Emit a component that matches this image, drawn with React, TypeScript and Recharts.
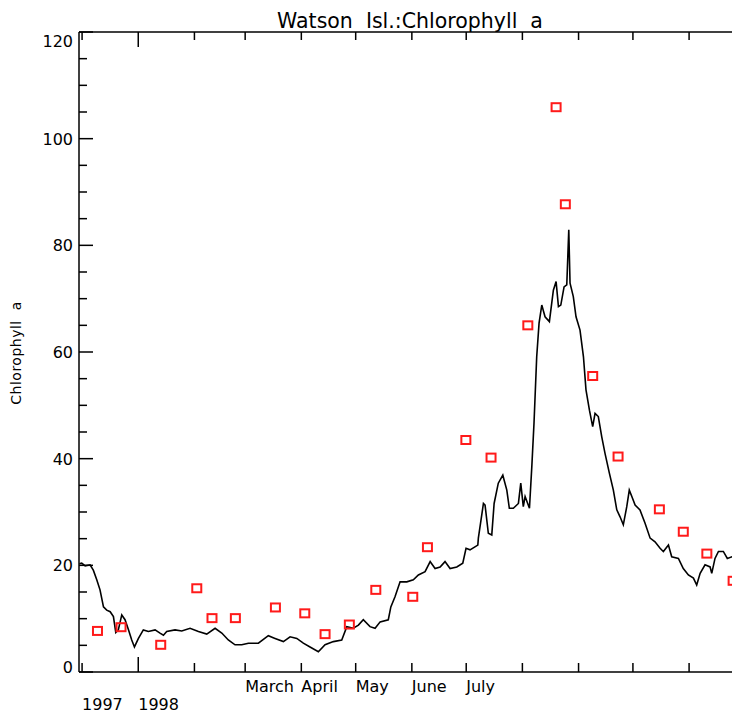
import React from "react";
import { ComposedChart, Line, Scatter, XAxis, YAxis } from "recharts";

// days counted from 1 Dec 1997
const sensorDays = [
  -1.5, -0.2, 1.7, 4.4, 6.2, 8.1, 9.9, 11.8, 13.6, 15.5, 17.3, 18.6, 20.0, 21.9, 23.7, 25.6, 27.4, 28.9,
  31.1, 33.8, 36.6, 40.3, 43.0, 44.9, 46.7, 51.3, 55.0, 59.6, 64.2, 68.8, 73.4, 77.1, 80.7, 84.4, 88.1,
  91.8, 97.3, 102.8, 106.5, 111.1, 114.8, 118.5, 122.1, 125.8, 130.4, 134.1, 138.7, 143.3, 146.1, 149.7,
  152.5, 155.2, 158.9, 161.7, 164.5, 169.0, 170.4, 172.7, 175.5, 179.2, 182.8, 185.6, 189.3, 192.1, 194.8,
  197.6, 200.3, 203.1, 206.8, 210.1, 211.9, 214.1, 218.4, 218.7, 221.5, 222.4, 224.2, 226.1, 227.4, 229.7,
  232.2, 234.4, 235.8, 238.0, 240.8, 242.1, 243.5, 244.5, 246.9, 248.2, 249.4, 250.9, 252.2, 253.7, 255.5,
  257.9, 260.1, 261.6, 262.9, 264.2, 266.0, 267.5, 268.6, 269.3, 271.1, 272.6, 274.8, 276.7, 278.1, 280.0,
  281.8, 283.1, 284.9, 286.8, 288.6, 291.0, 293.2, 295.1, 296.9, 298.7, 300.6, 302.0, 303.4, 305.2, 307.9,
  310.7, 313.5, 316.2, 319.0, 320.8, 323.6, 325.4, 329.1, 331.8, 334.6, 337.4, 339.2, 341.1, 343.8, 346.6,
  347.5, 349.3, 351.2, 353.9, 356.1, 358.6, 362.0, 364.0,
];
const sensorChl = [
  20.3, 20.4, 19.9, 20.1, 19.1, 17.3, 15.4, 12.2, 11.6, 11.3, 10.4, 7.4, 7.9, 10.7, 9.8, 7.9, 6.0, 4.7,
  6.3, 7.9, 7.6, 7.9, 7.3, 6.9, 7.6, 7.9, 7.7, 8.2, 7.6, 7.1, 8.2, 7.3, 6.0, 5.1, 5.1,
  5.4, 5.4, 6.8, 6.3, 5.7, 6.6, 6.3, 5.4, 4.7, 3.8, 5.1, 5.7, 6.0, 8.5, 8.2,
  8.8, 9.8, 8.5, 8.2, 9.4, 9.8, 12.2, 14.1, 16.9, 16.9, 17.3, 18.2, 18.8, 20.7, 19.4,
  19.7, 20.7, 19.4, 19.7, 20.4, 23.2, 22.9, 23.8, 25.1, 31.6, 31.3, 26.0, 25.7, 31.6, 35.4,
  36.9, 34.1, 30.7, 30.7, 31.6, 35.4, 31.0, 32.9, 30.7, 38.5, 46.6, 59.1, 65.4, 68.8, 66.6,
  65.7, 71.6, 73.2, 68.5, 68.8, 72.2, 72.6, 82.9, 72.9, 70.4, 66.6, 64.1, 59.1, 52.9, 49.1,
  46.0, 48.5, 47.9, 44.1, 41.0, 37.3, 34.1, 30.4, 29.1, 27.6, 31.0, 34.1, 32.9, 31.3, 30.4,
  27.9, 25.1, 24.4, 23.2, 22.6, 23.8, 21.6, 21.3, 19.4, 18.2, 17.6, 16.3, 18.5, 20.1, 19.7,
  18.5, 21.3, 22.6, 22.6, 21.3, 21.6, 21.0, 21.2,
];

const sampleDays = [
  8.5, 21.5, 43.4, 63.3, 71.7, 84.6, 106.7, 122.9, 134.1, 147.5, 162.1, 182.5, 190.6, 211.8, 225.7, 246.0,
  261.6, 266.7, 281.8, 295.8, 318.6, 331.8, 344.8, 359.3,
];
const sampleChl = [
  7.7, 8.4, 5.1, 15.7, 10.1, 10.1, 12.1, 11.0, 7.1, 8.9, 15.4, 14.1, 23.4, 43.5, 40.2, 65.0,
  105.9, 87.7, 55.5, 40.4, 30.5, 26.3, 22.2, 17.1,
];

const monthTicks = [0, 31, 62, 90, 121, 151, 182, 212, 243, 274, 304, 335];
const monthLabels = ["", "", "", "March", "April", "May", "June", "July", "", "", "", ""];
const yearLabels = ["1997", "1998", "", "", "", "", "", "", "", "", "", ""];

const yTicks = [0, 5, 10, 15, 20, 25, 30, 35, 40, 45, 50, 55, 60, 65, 70, 75, 80, 85, 90, 95, 100, 105, 110, 115, 120];
const yLabels = ["0", "20", "40", "60", "80", "100", "120"];

const sensorData = sensorDays.map((day, i) => ({ day, chl: sensorChl[i] }));
const sampleData = sampleDays.map((day, i) => ({ day, chl: sampleChl[i] }));

const FONT = "'DejaVu Sans', sans-serif";

const BottomTick = (props: any) => {
  const { x, y, payload } = props;
  const i = monthTicks.indexOf(payload.value);
  const len = payload.value === 31 ? 15 : 9;
  return (
    <g>
      <line x1={x} x2={x} y1={y} y2={y - len} stroke="#000" strokeWidth={1.5} />
      {monthLabels[i] && (
        <text x={x} y={y + 20} fontFamily={FONT} fontSize={16} fill="#000">
          {monthLabels[i]}
        </text>
      )}
      {yearLabels[i] && (
        <text x={x} y={y + 38} fontFamily={FONT} fontSize={16} fill="#000">
          {yearLabels[i]}
        </text>
      )}
    </g>
  );
};

const TopTick = (props: any) => {
  const { x, y, payload } = props;
  const len = payload.value === 31 ? 15 : 8;
  return <line x1={x} x2={x} y1={y} y2={y + len} stroke="#000" strokeWidth={1.5} />;
};

const LeftTick = (props: any) => {
  const { x, y, payload } = props;
  const v = payload.value;
  const major = v % 20 === 0;
  const dy = v === 120 ? 15 : v === 0 ? 1 : 6;
  return (
    <g>
      <line x1={x} x2={x + (major ? 14 : 8)} y1={y} y2={y} stroke="#000" strokeWidth={1.5} />
      {major && (
        <text x={x - 6} y={y + dy} textAnchor="end" fontFamily={FONT} fontSize={16} fill="#000">
          {yLabels[v / 20]}
        </text>
      )}
    </g>
  );
};

const RightTick = (props: any) => {
  const { x, y, payload } = props;
  const major = payload.value % 20 === 0;
  return <line x1={x} x2={x - (major ? 14 : 8)} y1={y} y2={y} stroke="#000" strokeWidth={1.5} />;
};

const SquareMark = (props: any) => {
  const { cx, cy } = props;
  return <rect x={cx - 4.5} y={cy - 4} width={9} height={8} fill="none" stroke="#ff1a1a" strokeWidth={2} />;
};

export default function App() {
  return (
    <div
      style={{
        position: "absolute",
        left: 0,
        top: 0,
        width: 732,
        height: 715,
        overflow: "hidden",
        background: "#fff",
      }}
    >
      <ComposedChart width={760} height={715} margin={{ top: 30, right: 8, bottom: 0, left: 0 }}>
        <XAxis
          dataKey="day"
          type="number"
          domain={[-1.7, 364.2]}
          allowDataOverflow
          ticks={monthTicks}
          interval={0}
          height={43}
          tickSize={0}
          tickMargin={0}
          tick={<BottomTick />}
          axisLine={{ stroke: "#000", strokeWidth: 1.5 }}
        />
        <XAxis
          xAxisId="top"
          orientation="top"
          dataKey="day"
          type="number"
          domain={[-1.7, 364.2]}
          allowDataOverflow
          ticks={monthTicks}
          interval={0}
          height={2}
          tickSize={0}
          tickMargin={0}
          tick={<TopTick />}
          axisLine={{ stroke: "#000", strokeWidth: 1.5 }}
        />
        <YAxis
          type="number"
          domain={[0, 120]}
          ticks={yTicks}
          interval={0}
          width={79}
          tickSize={0}
          tickMargin={0}
          tick={<LeftTick />}
          axisLine={{ stroke: "#000", strokeWidth: 1.5 }}
        />
        <YAxis
          yAxisId="right"
          orientation="right"
          type="number"
          domain={[0, 120]}
          ticks={yTicks}
          interval={0}
          width={10}
          tickSize={0}
          tickMargin={0}
          tick={<RightTick />}
          axisLine={{ stroke: "#000", strokeWidth: 1.5 }}
        />
        <Line
          data={sensorData}
          dataKey="chl"
          type="linear"
          stroke="#000"
          strokeWidth={1.6}
          dot={false}
          isAnimationActive={false}
        />
        <Scatter data={sampleData} dataKey="chl" shape={<SquareMark />} isAnimationActive={false} />
      </ComposedChart>
      <svg
        width={732}
        height={715}
        style={{ position: "absolute", left: 0, top: 0, pointerEvents: "none" }}
      >
        <text
          x={410}
          y={28}
          textAnchor="middle"
          fontFamily={FONT}
          fontSize={20.5}
          fill="#000"
          style={{ whiteSpace: "pre" }}
        >
          {"Watson  Isl.:Chlorophyll  a"}
        </text>
        <text
          x={21}
          y={353}
          textAnchor="middle"
          fontFamily={FONT}
          fontSize={14}
          letterSpacing={0.5}
          fill="#000"
          transform="rotate(-90 21 353)"
          style={{ whiteSpace: "pre" }}
        >
          {"Chlorophyll  a"}
        </text>
      </svg>
    </div>
  );
}
